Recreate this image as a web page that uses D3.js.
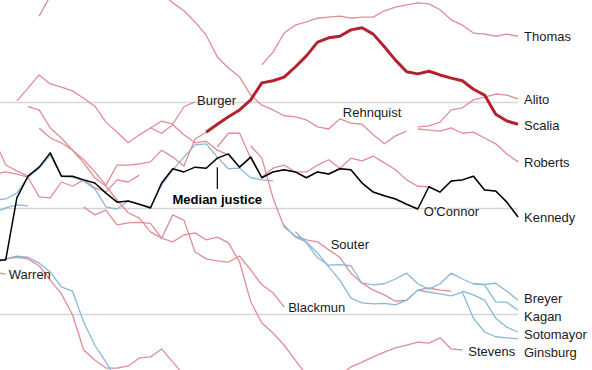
<!DOCTYPE html>
<html>
<head>
<meta charset="utf-8">
<script src="https://cdn.jsdelivr.net/npm/d3@7"></script>
<style>
  body { margin: 0; background: #fff; }
  svg text { font-family: "Liberation Sans", Arial, sans-serif; font-size: 13px; fill: #1a1a1a; }
</style>
</head>
<body>
<svg id="chart" width="592" height="370"></svg>
<script>
// ideology scores by term, positive = conservative
const median = [-0.97, -0.97, 0.20, 0.61, 0.78, 1.05, 0.61, 0.61, 0.54, 0.48, 0.29, 0.12, 0.14, 0.08, 0.01, 0.48,
  0.75, 0.69, 0.78, 0.76, 0.95, 1.03, 0.78, 0.97, 0.58, 0.69, 0.73, 0.69, 0.58, 0.69, 0.65, 0.75, 0.73, 0.48,
  0.31, 0.24, 0.18, 0.08, -0.01, 0.41, 0.31, 0.52, 0.54, 0.61, 0.35, 0.33, 0.12, -0.16] // 1967-2014

const warren = [-1.20, -1.24] // 1967
const black = [-0.08, 0.01, 0.07, 0.05] // 1967
const harlan = [1.29, 0.82, 0.71, 0.61] // 1967
const stewart = [0.65, 0.69, 0.65, 0.59, 0.22, 0.20, 0.50, 0.42, 0.54, 0.39, 0.31, 0.54, 0.50, 0.63] // 1967
const white = [0.16, 0.18, 0.29, 0.59, 0.76, 1.01, 0.61, 0.59, 0.52, 0.37, 0.03, -0.01, 0.14, 0.08, 0.03, 0.44,
  0.73, 0.97, 1.20, 1.22, 0.97, 0.75, 0.76, 0.58, 0.54, 0.52] // 1967
const brennan = [-1.03, -0.95, -0.92, -0.95, -1.08, -1.35, -1.61, -2.01, -2.67, -2.86, -3.01, -3.01, -2.97, -2.82,
  -2.80, -2.65, -2.90, -3.14, -3.33, -3.42, -3.52, -3.42, -3.52] // 1967
const marshall = [-1.03, -0.95, -0.90, -0.92, -1.03, -1.20, -1.48, -1.56, -2.14, -2.58, -2.90, -3.24, -3.42, -3.52,
  -3.61, -3.70, -3.65, -3.80, -3.75, -3.90, -3.85, -3.95, -4.00, -3.90] // 1967
const burger = [2.03, 2.27, 2.52, 2.35, 2.29, 2.22, 2.08, 1.93, 1.63, 1.44, 1.24, 1.39, 1.52, 1.65, 1.59, 1.92, 2.01] // 1969
const blackmun = [1.92, 1.86, 1.52, 1.33, 1.10, 0.86, 0.58, 0.42, 0.16, -0.08, -0.18, -0.44, -0.56, -0.12, -0.22,
  -0.82, -0.95, -0.99, -1.01, -0.90, -1.16, -1.44, -1.59, -1.86] // 1970
const powell = [1.52, 1.33, 1.24, 1.10, 0.92, 0.69, 0.44, 0.82, 0.82, 0.84, 0.88, 1.10, 0.97, 0.80, 1.31, 1.44] // 1971
const rehnquist = [3.63, 4.01, 4.31, 4.50, 4.59, 4.69, 4.69, 4.59, 4.59, 4.50, 4.31, 4.05, 3.88, 3.73, 3.52, 3.27,
  2.86, 2.65, 2.48, 2.14, 1.95, 1.86, 1.75, 1.73, 1.67, 1.54, 1.50, 1.69, 1.61, 1.59, 1.39, 1.22, 1.37, 1.46] // 1971
const stevens = [0.03, -0.12, -0.03, -0.31, -0.27, -0.26, -0.28, -0.56, -0.63, -0.50, -0.46, -0.59, -0.54, -0.65,
  -1.01, -1.76, -2.16, -2.35, -2.58, -2.86, -3.14, -3.33, -3.33, -3.14, -2.99, -2.90, -2.80, -2.71, -2.63, -2.58,
  -2.52, -2.54, -2.44, -2.65, -2.67] // 1975
const oconnor = [1.52, 1.42, 1.58, 1.39, 1.24, 1.27, 1.10, 1.01, 0.78, 0.97, 0.58, 0.69, 0.73, 0.69, 0.58, 0.69,
  0.65, 0.75, 0.73, 0.48, 0.31, 0.24, 0.18, 0.08, -0.01] // 1981
const scalia = [1.44, 1.59, 1.73, 1.86, 2.05, 2.37, 2.41, 2.48, 2.67, 2.88, 3.14, 3.22, 3.25, 3.37, 3.41, 3.29, 3.05,
  2.80, 2.58, 2.54, 2.59, 2.52, 2.46, 2.41, 2.25, 2.14, 1.78, 1.65, 1.59] // 1986
const kennedy = [1.16, 1.42, 1.42, 0.95, 0.59, 0.76, 0.82, 0.69, 0.69, 0.82, 0.92, 0.76, 0.95, 0.90, 0.99, 0.86,
  0.73, 0.54, 0.42, 0.41, 0.31, 0.52, 0.54, 0.61, 0.35, 0.33, 0.12, -0.16] // 1987
const souter = [1.18, 0.95, 0.20, -0.35, -0.52, -0.59, -0.63, -0.78, -0.92, -1.22, -1.41, -1.54, -1.63, -1.75,
  -1.73, -1.54, -1.50, -1.54, -1.56] // 1990
const thomas = [2.71, 2.95, 3.31, 3.46, 3.52, 3.59, 3.61, 3.63, 3.59, 3.61, 3.61, 3.73, 3.80, 3.84, 3.88, 3.86,
  3.75, 3.56, 3.46, 3.31, 3.29, 3.25, 3.29, 3.25] // 1991
const ginsburg = [-0.31, -0.54, -0.63, -0.84, -1.10, -1.35, -1.69, -1.78, -1.80, -1.79, -1.82, -1.73, -1.54, -1.58,
  -1.61, -1.65, -1.58, -2.07, -2.33, -2.42, -2.44, -2.46] // 1993
const breyer = [-0.44, -0.65, -0.93, -1.07, -1.06, -1.08, -1.41, -1.44, -1.42, -1.33, -1.22, -1.42, -1.52, -1.42,
  -1.22, -1.33, -1.42, -1.43, -1.41, -1.56, -1.73] // 1994
const roberts = [1.50, 1.48, 1.46, 1.52, 1.42, 1.44, 1.33, 1.22, 1.03, 0.88] // 2005
const alito = [1.54, 1.56, 1.63, 1.86, 1.90, 2.05, 2.10, 2.16, 2.14, 2.07] // 2005
const sotomayor = [-1.56, -1.63, -1.73, -2.07, -2.24, -2.33] // 2009
const kagan = [-1.42, -1.44, -1.76, -1.77, -1.92] // 2010

const gridValues = [2, 0, -2]

const justices = [
  { name: 'Warren', start: 1967, party: 'R', values: warren },
  { name: 'Black', start: 1967, party: 'D', values: black },
  { name: 'Harlan', start: 1967, party: 'R', values: harlan },
  { name: 'Stewart', start: 1967, party: 'R', values: stewart },
  { name: 'White', start: 1967, party: 'D', values: white },
  { name: 'Brennan', start: 1967, party: 'R', values: brennan },
  { name: 'Marshall', start: 1967, party: 'D', values: marshall },
  { name: 'Burger', start: 1969, party: 'R', values: burger },
  { name: 'Blackmun', start: 1970, party: 'R', values: blackmun },
  { name: 'Powell', start: 1971, party: 'R', values: powell },
  { name: 'Rehnquist', start: 1971, party: 'R', values: rehnquist },
  { name: 'Stevens', start: 1975, party: 'R', values: stevens },
  { name: "O'Connor", start: 1981, party: 'R', values: oconnor },
  { name: 'Kennedy', start: 1987, party: 'R', values: kennedy },
  { name: 'Souter', start: 1990, party: 'R', values: souter },
  { name: 'Thomas', start: 1991, party: 'R', values: thomas },
  { name: 'Ginsburg', start: 1993, party: 'D', values: ginsburg },
  { name: 'Breyer', start: 1994, party: 'D', values: breyer },
  { name: 'Roberts', start: 2005, party: 'R', values: roberts },
  { name: 'Alito', start: 2005, party: 'R', values: alito },
  { name: 'Sotomayor', start: 2009, party: 'D', values: sotomayor },
  { name: 'Kagan', start: 2010, party: 'D', values: kagan },
  { name: 'Scalia', start: 1986, party: 'R', values: scalia, highlight: true }
]

// where each name sits: anchored to a term and a score
const labels = [
  { text: 'Thomas', year: 2014, value: 3.25, dx: 6 },
  { text: 'Alito', year: 2014, value: 2.05, dx: 6 },
  { text: 'Scalia', year: 2014, value: 1.56, dx: 6 },
  { text: 'Roberts', year: 2014, value: 0.86, dx: 6 },
  { text: 'Kennedy', year: 2014, value: -0.16, dx: 6 },
  { text: 'Breyer', year: 2014, value: -1.69, dx: 6 },
  { text: 'Kagan', year: 2014, value: -2.03, dx: 6 },
  { text: 'Sotomayor', year: 2014, value: -2.37, dx: 6 },
  { text: 'Ginsburg', year: 2014, value: -2.71, dx: 6 },
  { text: 'Stevens', year: 2009, value: -2.69, dx: 6 },
  { text: "O'Connor", year: 2005, value: -0.05, dx: 6 },
  { text: 'Souter', year: 1997, value: -0.67, dx: 2 },
  { text: 'Blackmun', year: 1993, value: -1.86, dx: 4 },
  { text: 'Rehnquist', year: 1998, value: 1.82, dx: 3 },
  { text: 'Burger', year: 1985, value: 2.03, dx: 2 },
  { text: 'Warren', year: 1968, value: -1.24, dx: 3 }
]

const svg = d3.select('#chart')

const x = d3.scaleLinear().domain([1970, 2014]).range([28, 518])
const y = d3.scaleLinear().domain([-2, 2]).range([314.5, 102.5])
const color = d3.scaleOrdinal().domain(['R', 'D']).range(['#df8e95', '#88b9d9'])

const line = d3.line().x(d => x(d.year)).y(d => y(d.value))
const toPoints = (values, start) => values.map((value, i) => ({ year: start + i, value }))

svg.append('g').selectAll('line')
  .data(gridValues)
  .enter().append('line')
  .attr('x1', 0).attr('x2', x(2014))
  .attr('y1', d => y(d)).attr('y2', d => y(d))
  .attr('stroke', '#d6d6d6')
  .attr('stroke-width', 1.5)

svg.append('g').selectAll('path')
  .data(justices.filter(j => !j.highlight))
  .enter().append('path')
  .attr('d', j => line(toPoints(j.values, j.start)))
  .attr('fill', 'none')
  .attr('stroke', j => color(j.party))
  .attr('stroke-width', 1.3)
  .attr('stroke-linejoin', 'round')

svg.append('path')
  .attr('d', line(toPoints(median, 1967)))
  .attr('fill', 'none')
  .attr('stroke', '#000')
  .attr('stroke-width', 1.5)
  .attr('stroke-linejoin', 'round')

justices.filter(j => j.highlight).forEach(j => {
  svg.append('path')
    .attr('d', line(toPoints(j.values, j.start)))
    .attr('fill', 'none')
    .attr('stroke', '#b3232f')
    .attr('stroke-width', 3)
    .attr('stroke-linejoin', 'round')
})

svg.append('g').selectAll('text')
  .data(labels)
  .enter().append('text')
  .attr('x', d => x(d.year) + d.dx)
  .attr('y', d => y(d.value))
  .attr('dy', '0.35em')
  .text(d => d.text)

// median callout
svg.append('line')
  .attr('x1', x(1987)).attr('x2', x(1987))
  .attr('y1', y(0.78)).attr('y2', y(0.37))
  .attr('stroke', '#000').attr('stroke-width', 1.2)

svg.append('text')
  .attr('x', x(1987))
  .attr('y', y(0.18))
  .attr('dy', '0.35em')
  .attr('text-anchor', 'middle')
  .style('font-weight', 'bold')
  .style('fill', '#000')
  .text('Median justice')
</script>
</body>
</html>
